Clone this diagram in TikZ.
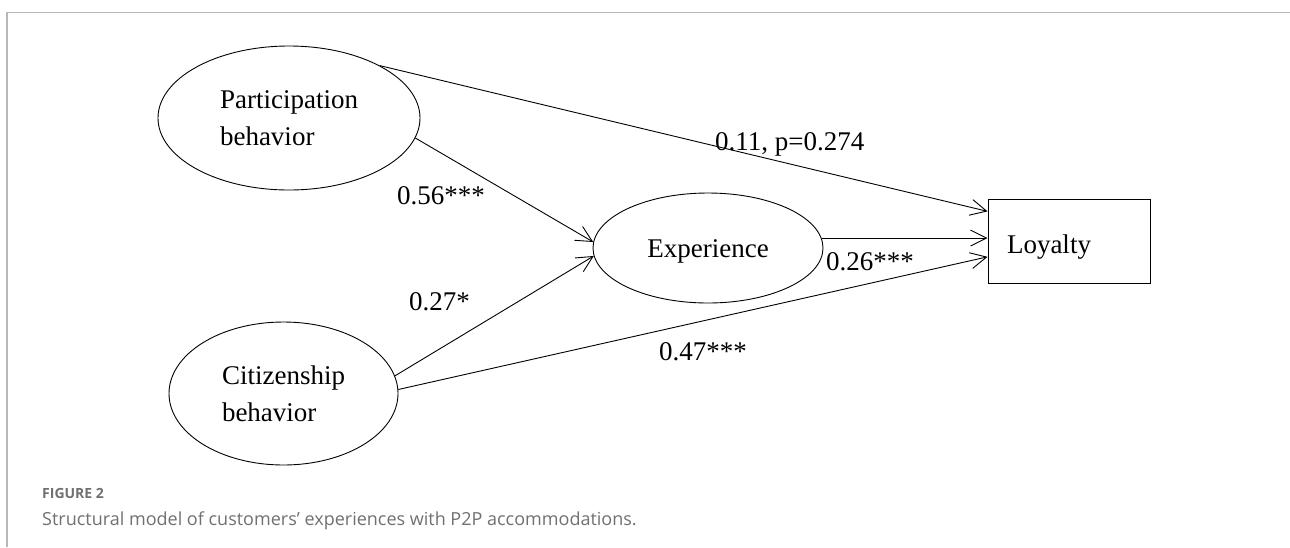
\documentclass[tikz,border=0pt]{standalone}
\usepackage{fontspec}
\setmainfont{Liberation Serif}
\newfontfamily\capfont{Open Sans}
\usepackage{xcolor}
\usetikzlibrary{shapes.geometric,arrows.meta,positioning,calc}
\definecolor{framegray}{RGB}{184, 184, 184}
\definecolor{captiongray}{RGB}{112, 112, 112}

\begin{document}
\begin{tikzpicture}[x=1pt, y=-1pt,
    >={Straight Barb[length=16pt, width=16pt]},
    construct/.style={ellipse, draw, line width=0.9pt, font=\fontsize{27}{37}\selectfont, align=left, inner sep=0pt},
    observed/.style={rectangle, draw, line width=0.9pt, font=\fontsize{27}{37}\selectfont},
    path/.style={->, line width=0.9pt},
    coef/.style={anchor=base west, inner sep=0pt, font=\fontsize{27}{32}\selectfont}]
        \useasboundingbox (0, 0) rectangle (1290, 547);
        % Frame
        \draw[framegray, line width=1.6pt] (1290, 12.5) -- (7, 12.5) -- (7, 547);

        % Constructs
        \node[construct, minimum width=262, minimum height=144] (part) at (289, 118) {Participation\\behavior};
        \node[construct, minimum width=229, minimum height=143] (cit) at (283.5, 393.5) {Citizenship\\behavior};
        \node[construct, minimum width=230, minimum height=110, text height=19, text depth=0] (exp) at (708, 248) {Experience};
        \node[observed, minimum height=84, text width=124, text height=24, text depth=0, inner xsep=19, align=left] (loy) at (1069, 241) {Loyalty};

        % Paths
        \draw[path] (part.30) -- (loy.160);
        \draw[path] (part.-9) -- (exp.177);
        \draw[path] (cit.9) -- (exp.184);
        \draw[path] (exp.5) -- (exp.5 -| loy.west);
        \draw[path] (cit.2) -- (loy.191);

        % Coefficients
        \node[coef] (c1) at (715, 150) {0.11, p=0.274};
        \node[coef] (c2) at (397, 204) {0.56***};
        \node[coef] (c3) at (409, 310) {0.27*};
        \node[coef] (c4) at (826, 270) {0.26***};
        \node[coef] (c5) at (659, 360) {0.47***};

        % Caption
        \node[anchor=base west, inner sep=0pt, font=\capfont\bfseries\fontsize{14}{16}\selectfont, text=captiongray] (fig) at (42, 498) {FIGURE 2};
        \node[anchor=base west, inner sep=0pt, font=\capfont\fontsize{18}{21}\selectfont, text=captiongray] (cap) at (42, 525) {Structural model of customers’ experiences with P2P accommodations.};
    \end{tikzpicture}
\end{document}
